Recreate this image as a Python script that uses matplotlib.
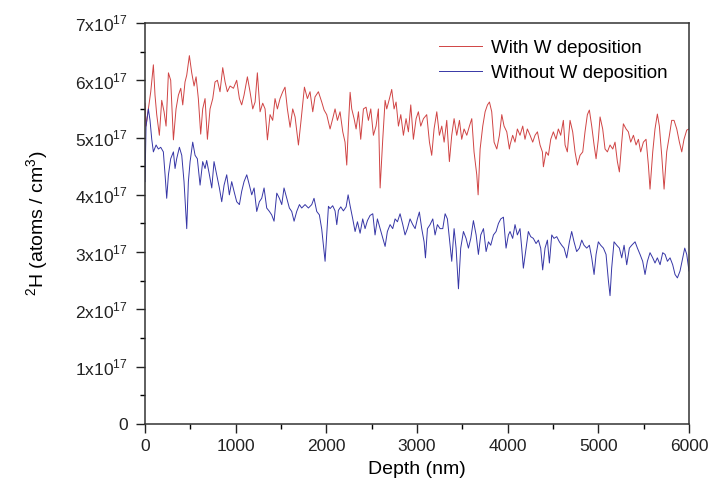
import matplotlib
matplotlib.use("Agg")
import matplotlib.pyplot as plt

plt.rcParams["font.family"] = ["Liberation Sans", "DejaVu Sans"]
plt.rcParams["mathtext.fontset"] = "custom"
plt.rcParams["mathtext.rm"] = "Liberation Sans"

# depth (nm) and 2H concentration (units of 1e17 atoms/cm3)
with_w_depth = [
    0, 11, 37, 63, 92, 110, 129, 158, 184, 210, 232, 258, 283, 313, 342, 368, 394, 416, 441, 460,
    489, 515, 541, 563, 588, 614, 636, 662, 688, 717, 747, 772, 798, 827, 857, 883, 908, 938, 975,
    1011, 1041, 1066, 1092, 1129, 1158, 1188, 1214, 1239, 1269, 1298, 1324, 1350, 1379, 1408, 1434,
    1460, 1489, 1519, 1544, 1570, 1600, 1629, 1655, 1692, 1721, 1758, 1791, 1820, 1850, 1875, 1912,
    1949, 1975, 2004,
    2041, 2070, 2096, 2122, 2151, 2181, 2206, 2225, 2243, 2262, 2280, 2306, 2328, 2354, 2379, 2409,
    2438, 2464, 2490, 2519, 2548, 2574, 2593, 2622, 2648, 2666, 2696, 2721, 2747, 2769, 2795, 2821,
    2850, 2879, 2905, 2931, 2960, 2990, 3015, 3041, 3071, 3107, 3137, 3162, 3188, 3218, 3247, 3273,
    3299, 3328, 3357, 3383, 3409, 3438, 3468, 3493, 3519, 3549, 3578, 3604, 3629, 3659, 3674, 3696,
    3725, 3751, 3777, 3799, 3824, 3850, 3880, 3909, 3935, 3960, 3990, 4019,
    4026, 4055, 4081, 4107, 4136, 4166, 4191, 4217, 4247, 4276, 4302, 4328, 4357, 4383, 4394, 4423,
    4449, 4475, 4504, 4533, 4559, 4585, 4614, 4633, 4658, 4688, 4717, 4743, 4769, 4798, 4828, 4853,
    4879, 4901, 4927, 4953, 4975, 5000, 5019, 5048, 5074, 5100, 5129, 5159, 5184, 5210, 5232, 5258,
    5276, 5306, 5331, 5357, 5387, 5416, 5442, 5467, 5497, 5526, 5552, 5570, 5600, 5625, 5651, 5673,
    5699, 5725, 5754, 5784, 5809, 5835, 5865, 5894, 5920, 5945, 5975, 6000,
]
with_w_conc = [
    5.6, 5.2, 5.5, 5.8, 6.27, 5.74, 5.4, 5.04, 5.65, 5.45, 5.2, 6.13, 6.0, 4.96, 5.5, 5.74, 5.86,
    5.57, 5.97, 6.09, 6.43, 6.13, 5.9, 6.06, 5.68, 5.06, 5.5, 5.68, 4.97, 5.5, 5.68, 5.97, 6.0, 5.8,
    6.22, 5.97, 5.8, 5.9, 5.86, 6.0, 5.68, 5.57, 5.74, 6.06, 5.8, 5.5, 5.62, 6.13, 5.45, 5.6, 5.5,
    4.96, 5.4, 5.3, 5.68, 5.5, 5.68, 5.8, 5.88, 5.5, 5.18, 5.5, 5.36, 4.87, 5.3, 5.88, 5.68, 5.8,
    5.45, 5.71, 5.8, 5.62, 5.48, 5.4,
    5.15, 5.33, 5.5, 5.3, 5.45, 5.1, 4.92, 4.52, 5.2, 5.79, 5.5, 5.33, 5.15, 5.45, 4.97, 5.5, 5.53,
    5.3, 5.5, 5.04, 5.2, 5.5, 4.12, 4.97, 5.65, 5.5, 5.68, 5.84, 5.5, 5.62, 5.2, 5.4, 5.04, 5.33,
    5.1, 5.57, 4.97, 5.33, 5.45, 5.2, 5.33, 5.4, 4.92, 4.69, 5.15, 5.45, 5.04, 5.2, 4.92, 5.3, 4.58,
    5.04, 5.33, 5.04, 5.3, 4.97, 5.15, 5.04, 5.2, 5.33, 4.75, 4.35, 4.0, 4.8, 5.2, 5.45, 5.57, 5.62,
    5.45, 4.92, 4.8, 5.04, 5.4, 5.2, 5.1, 4.8,
    4.87, 5.04, 4.92, 5.15, 5.04, 5.2, 4.97, 5.15, 5.04, 4.92, 5.04, 5.1, 4.87, 4.75, 4.49, 4.75,
    4.69, 4.97, 5.1, 4.97, 5.15, 5.04, 5.3, 4.87, 4.75, 5.3, 5.1, 4.75, 4.52, 4.69, 4.75, 5.1, 5.4,
    5.48, 5.2, 4.87, 4.63, 4.97, 5.36, 5.15, 4.8, 4.75, 4.87, 4.8, 4.92, 4.58, 4.4, 4.92, 5.24, 5.15,
    5.1, 4.92, 5.04, 4.87, 4.97, 4.75, 4.92, 4.97, 4.52, 4.1, 4.75, 5.15, 5.41, 5.2, 4.69, 4.1, 4.75,
    5.04, 5.3, 5.3, 5.15, 4.92, 4.75, 4.97, 5.13, 5.15,
]

without_w_depth = [
    0, 11, 37, 55, 74, 92, 122, 147, 173, 202, 221, 239, 258, 283, 313, 331, 349, 379, 405, 430,
    460, 478, 497, 526, 552, 577, 607, 636, 662, 680, 710, 736, 761, 791, 820, 846, 872, 901, 930,
    956, 982, 1011, 1041, 1066, 1092, 1122, 1151, 1177, 1203, 1232, 1261, 1287, 1313, 1342, 1372,
    1397, 1423, 1453, 1482, 1508, 1533, 1563, 1592, 1618, 1644, 1673, 1703, 1728, 1765, 1802, 1839,
    1864, 1894, 1923, 1949, 1986, 2023,
    2041, 2070, 2096, 2115, 2133, 2159, 2188, 2218, 2240, 2262, 2291, 2317, 2343, 2372, 2401, 2427,
    2453, 2482, 2512, 2537, 2563, 2593, 2622, 2648, 2673, 2703, 2732, 2758, 2784, 2813, 2843, 2868,
    2894, 2923, 2953, 2979, 3004, 3026, 3052, 3078, 3093, 3115, 3144, 3174, 3199, 3225, 3254, 3284,
    3310, 3335, 3357, 3383, 3409, 3431, 3457, 3482, 3512, 3541, 3567, 3593, 3622, 3652, 3677, 3703,
    3733, 3762, 3788, 3813, 3843, 3872, 3898, 3924, 3953, 3982, 4008,
    4026, 4055, 4081, 4107, 4136, 4155, 4173, 4203, 4228, 4254, 4283, 4313, 4339, 4364, 4386, 4412,
    4438, 4460, 4486, 4511, 4541, 4570, 4596, 4622, 4651, 4681, 4706, 4732, 4761, 4791, 4817, 4842,
    4872, 4901, 4927, 4953, 4975, 5000, 5026, 5056, 5085, 5111, 5129, 5147, 5173, 5203, 5232, 5258,
    5284, 5313, 5342, 5368, 5405, 5431, 5460, 5489, 5515, 5541, 5570, 5600, 5625, 5651, 5681, 5710,
    5736, 5762, 5791, 5820, 5846, 5872, 5901, 5931, 5953, 5975, 6000,
]
without_w_conc = [
    4.23, 5.2, 5.5, 5.3, 4.97, 4.75, 4.87, 4.8, 4.83, 4.75, 4.35, 3.94, 4.35, 4.63, 4.75, 4.46, 4.63,
    4.83, 4.69, 4.23, 3.41, 4.23, 4.58, 4.92, 4.69, 4.63, 4.17, 4.58, 4.46, 4.6, 4.35, 4.12, 4.58,
    4.35, 4.12, 3.88, 4.17, 4.35, 4.0, 4.23, 4.06, 3.88, 3.83, 4.06, 4.23, 4.35, 4.17, 4.0, 4.12,
    3.71, 3.88, 3.94, 4.12, 3.77, 3.71, 3.65, 3.54, 4.03, 3.94, 3.83, 4.12, 3.94, 3.77, 3.71, 3.54,
    3.71, 3.83, 3.77, 3.83, 3.77, 3.83, 3.94, 3.71, 3.65, 3.4, 2.84, 3.8,
    3.76, 3.81, 3.72, 3.48, 3.73, 3.79, 3.72, 3.79, 4.0, 3.81, 3.58, 3.36, 3.53, 3.33, 3.58, 3.41,
    3.55, 3.64, 3.67, 3.3, 3.58, 3.41, 3.24, 3.1, 3.36, 3.48, 3.41, 3.58, 3.53, 3.67, 3.48, 3.3,
    3.41, 3.58, 3.48, 3.41, 3.58, 3.7, 3.41, 3.18, 2.9, 3.41, 3.48, 3.58, 3.3, 3.48, 3.41, 3.41,
    3.67, 3.58, 3.24, 2.84, 3.41, 3.07, 2.36, 3.07, 3.36, 3.24, 3.07, 3.24, 3.55, 3.3, 2.96, 3.3,
    3.41, 3.01, 3.18, 3.12, 3.3, 3.36, 3.5, 3.58, 3.61, 3.07, 3.3,
    3.36, 3.24, 3.48, 3.3, 3.41, 3.07, 2.72, 3.07, 3.36, 3.27, 3.24, 3.15, 3.21, 3.07, 2.69, 3.07,
    3.21, 2.81, 3.3, 3.24, 3.27, 3.18, 3.12, 3.07, 2.9, 3.18, 3.36, 3.18, 3.01, 3.07, 3.21, 3.12,
    3.07, 3.12, 2.9, 2.61, 2.96, 3.18, 3.12, 3.07, 2.96, 2.5, 2.24, 2.72, 3.18, 3.12, 3.07, 2.9,
    3.12, 2.78, 3.07, 3.12, 3.18, 3.07, 2.96, 2.84, 2.61, 2.84, 2.99, 2.9, 2.81, 2.9, 2.78, 2.99,
    2.96, 2.84, 2.9, 2.78, 2.61, 2.55, 2.67, 2.9, 3.07, 2.96, 2.67,
]

y_ticks = [0, 1, 2, 3, 4, 5, 6, 7]
y_tick_labels = ["0"] + [f"{i}x10$^{{17}}$" for i in range(1, 8)]
x_ticks = [0, 1000, 2000, 3000, 4000, 5000, 6000]


fig = plt.figure(figsize=(7.12, 4.87), dpi=100)
ax = fig.add_axes([0.2037, 0.1294, 0.7640, 0.8234])

ax.plot(with_w_depth, with_w_conc, color="#d04444", lw=0.7, label="With W deposition")
ax.plot(without_w_depth, without_w_conc, color="#3636a6", lw=0.7, label="Without W deposition")

ax.set_xlim(0, 6000)
ax.set_ylim(0, 7)
ax.set_xticks(x_ticks)
ax.set_xticks(range(500, 6000, 1000), minor=True)
ax.set_yticks(y_ticks)
ax.set_yticklabels(y_tick_labels)
ax.set_yticks([0.5 + i for i in range(7)], minor=True)

ax.tick_params(which="major", direction="out", length=6.5, width=1, labelsize=12.5,
               colors="#222222")
ax.tick_params(axis="x", which="major", pad=4.5)
ax.tick_params(axis="y", which="major", pad=6)
ax.tick_params(which="minor", direction="out", length=3.5, width=1)
for s in ax.spines.values():
    s.set_linewidth(1.1)
    s.set_color("#333333")

ax.set_xlabel("Depth (nm)", fontsize=14, labelpad=5)
ax.set_ylabel("$^{2}$H (atoms / cm$^{3}$)", fontsize=14, labelpad=17)

ax.legend(loc="upper right", bbox_to_anchor=(0.992, 1.0), frameon=False, fontsize=13.5,
          handlelength=2.3, handletextpad=0.5, labelspacing=0.4)

fig.savefig("out.png", dpi=100)
